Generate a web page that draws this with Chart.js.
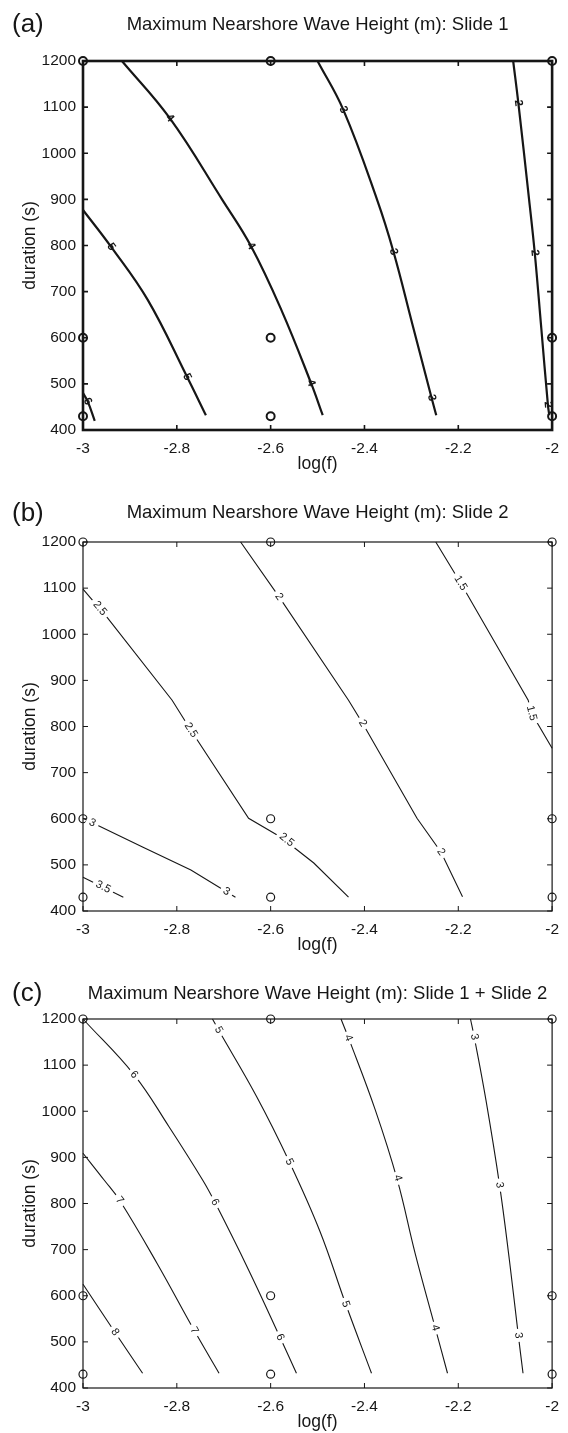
<!DOCTYPE html>
<html><head><meta charset="utf-8">
<script src="https://cdn.jsdelivr.net/npm/chart.js@4.4.0/dist/chart.umd.min.js"></script>
<style>
html,body{margin:0;padding:0;background:#fff;width:568px;height:1433px;overflow:hidden;}
.panel{position:absolute;left:0;width:568px;height:478px;}
canvas{display:block;}
</style></head><body>
<div class="panel" style="top:0px"><canvas id="ca" width="568" height="478"></canvas></div>
<div class="panel" style="top:481px"><canvas id="cb" width="568" height="478"></canvas></div>
<div class="panel" style="top:958px"><canvas id="cc" width="568" height="478"></canvas></div>
<script>
// ---------- axes ----------
const xTicks = [-3, -2.8, -2.6, -2.4, -2.2, -2];
const xTickLabels = ['-3', '-2.8', '-2.6', '-2.4', '-2.2', '-2'];
const yTicks = [400, 500, 600, 700, 800, 900, 1000, 1100, 1200];
const yTickLabels = ['400', '500', '600', '700', '800', '900', '1000', '1100', '1200'];
const xAxisTitle = 'log(f)';
const yAxisTitle = 'duration (s)';
const panelTags = ['(a)', '(b)', '(c)'];
const panelTitles = [
  'Maximum Nearshore Wave Height (m): Slide 1',
  'Maximum Nearshore Wave Height (m): Slide 2',
  'Maximum Nearshore Wave Height (m): Slide 1 + Slide 2'
];

// ---------- sample (simulation) points ----------
const sampleX = [-3, -2.6, -2, -3, -2.6, -2, -3, -2.6, -2];
const sampleY = [1200, 1200, 1200, 600, 600, 600, 430, 430, 430];

// ---------- panel (a): Slide 1 contours ----------
const a6x = [-3, -2.99, -2.975];
const a6y = [480, 462, 420];
const a5x = [-3, -2.94, -2.862, -2.778, -2.738];
const a5y = [877, 797, 682, 515, 432];
const a4x = [-2.917, -2.815, -2.703, -2.642, -2.577, -2.514, -2.489];
const a4y = [1200, 1076, 899, 799, 660, 502, 432];
const a3x = [-2.5, -2.445, -2.373, -2.338, -2.298, -2.257, -2.247];
const a3y = [1200, 1094, 899, 786, 630, 470, 432];
const a2x = [-2.083, -2.072, -2.049, -2.037, -2.023, -2.009, -2.006];
const a2y = [1200, 1109, 899, 784, 620, 455, 432];
const aLabelText = ['6', '5', '5', '4', '4', '4', '3', '3', '3', '2', '2', '2'];
const aLabelX = [-2.99, -2.94, -2.778, -2.815, -2.642, -2.514, -2.445, -2.338, -2.257, -2.072, -2.037, -2.009];
const aLabelY = [462, 797, 515, 1076, 799, 502, 1094, 786, 470, 1109, 784, 455];

// ---------- panel (b): Slide 2 contours ----------
const b35x = [-3, -2.914];
const b35y = [473, 430];
const b3x = [-3, -2.872, -2.77, -2.675];
const b3y = [601, 538, 489, 430];
const b25x = [-3, -2.949, -2.81, -2.77, -2.647, -2.578, -2.508, -2.434];
const b25y = [1098, 1037, 857, 792, 601, 560, 504, 430];
const b2x = [-2.664, -2.582, -2.434, -2.404, -2.288, -2.237, -2.191];
const b2y = [1200, 1081, 857, 807, 601, 528, 431];
const b15x = [-2.248, -2.195, -2.051, -2.044, -2];
const b15y = [1200, 1111, 857, 829, 753];
const bLabelText = ['3.5', '3', '3', '2.5', '2.5', '2.5', '2', '2', '2', '1.5', '1.5'];
const bLabelX = [-2.957, -2.98, -2.694, -2.964, -2.77, -2.566, -2.582, -2.404, -2.237, -2.195, -2.044];
const bLabelY = [452, 591, 442, 1056, 792, 554, 1081, 807, 528, 1111, 829];

// ---------- panel (c): Slide 1 + Slide 2 contours ----------
const c8x = [-3, -2.932, -2.873];
const c8y = [625, 521, 432];
const c7x = [-3, -2.955, -2.922, -2.842, -2.763, -2.71];
const c7y = [909, 851, 807, 670, 525, 432];
const c6x = [-3, -2.891, -2.817, -2.745, -2.719, -2.647, -2.58, -2.545];
const c6y = [1200, 1079, 967, 851, 803, 656, 510, 432];
const c5x = [-2.724, -2.711, -2.63, -2.56, -2.495, -2.44, -2.385];
const c5y = [1200, 1176, 1032, 890, 740, 582, 432];
const c4x = [-2.45, -2.434, -2.377, -2.33, -2.292, -2.249, -2.223];
const c4y = [1200, 1159, 1003, 851, 692, 530, 432];
const c3x = [-2.174, -2.166, -2.141, -2.112, -2.091, -2.072, -2.062];
const c3y = [1200, 1161, 1024, 840, 677, 514, 432];
const cLabelText = ['8', '7', '7', '6', '6', '6', '5', '5', '5', '4', '4', '4', '3', '3', '3'];
const cLabelX = [-2.932, -2.922, -2.763, -2.891, -2.719, -2.58, -2.711, -2.56, -2.44, -2.434, -2.329, -2.249, -2.166, -2.112, -2.072];
const cLabelY = [521, 807, 525, 1079, 803, 510, 1176, 890, 582, 1159, 855, 530, 1161, 840, 514];

// ---------- rendering ----------
const FONT = "'Liberation Sans', Arial, Helvetica, sans-serif";
const INK = '#161616';

function pts(xs, ys) { return xs.map((x, i) => ({ x: x, y: ys[i] })); }

const framePlugin = {
  id: 'frame',
  beforeDatasetsDraw(chart, args, o) {
    const { ctx, chartArea: ca, scales: { x, y } } = chart;
    ctx.save();
    ctx.strokeStyle = INK;
    ctx.lineWidth = o.width;
    ctx.strokeRect(ca.left, ca.top, ca.right - ca.left, ca.bottom - ca.top);
    ctx.lineWidth = o.tickWidth;
    ctx.beginPath();
    const L = 5;
    xTicks.forEach(v => {
      const p = x.getPixelForValue(v);
      ctx.moveTo(p, ca.bottom); ctx.lineTo(p, ca.bottom - L);
      ctx.moveTo(p, ca.top); ctx.lineTo(p, ca.top + L);
    });
    yTicks.forEach(v => {
      const p = y.getPixelForValue(v);
      ctx.moveTo(ca.left, p); ctx.lineTo(ca.left + L, p);
      ctx.moveTo(ca.right, p); ctx.lineTo(ca.right - L, p);
    });
    ctx.stroke();
    ctx.restore();
  }
};

const clabelPlugin = {
  id: 'clabels',
  afterDatasetsDraw(chart, args, o) {
    const { ctx, scales: { x, y } } = chart;
    ctx.save();
    ctx.font = o.weight + ' ' + o.size + 'px ' + FONT;
    ctx.textAlign = 'center';
    ctx.textBaseline = 'middle';
    o.text.forEach((t, i) => {
      const px = x.getPixelForValue(o.xs[i]);
      const py = y.getPixelForValue(o.ys[i]);
      const ds = chart.data.datasets.find(d => d.level === t);
      let best = Infinity, ang = Math.PI / 2;
      if (ds) {
        const pp = ds.data.map(p => [x.getPixelForValue(p.x), y.getPixelForValue(p.y)]);
        for (let k = 0; k < pp.length - 1; k++) {
          const [x1, y1] = pp[k], [x2, y2] = pp[k + 1];
          const dx = x2 - x1, dy = y2 - y1, LL = dx * dx + dy * dy;
          let tt = ((px - x1) * dx + (py - y1) * dy) / LL;
          tt = Math.max(0, Math.min(1, tt));
          const d = Math.hypot(x1 + tt * dx - px, y1 + tt * dy - py);
          if (d < best) { best = d; ang = Math.atan2(dy, dx); }
        }
      }
      if (ang > Math.PI / 2) ang -= Math.PI;
      if (ang < -Math.PI / 2) ang += Math.PI;
      ctx.save();
      ctx.translate(px, py);
      ctx.rotate(ang);
      if (o.bg) {
        const w = ctx.measureText(t).width + 7;
        ctx.fillStyle = '#fff';
        ctx.fillRect(-w / 2, -o.size * 0.5, w, o.size);
      }
      ctx.fillStyle = INK;
      ctx.fillText(t, 0, 0);
      ctx.restore();
    });
    ctx.restore();
  }
};

const tagPlugin = {
  id: 'tag',
  afterDraw(chart, args, o) {
    const ctx = chart.ctx;
    ctx.save();
    ctx.font = '26px ' + FONT;
    ctx.fillStyle = INK;
    ctx.textAlign = 'left';
    ctx.textBaseline = 'middle';
    ctx.fillText(o.text, 12, o.y);
    ctx.restore();
  }
};

function makeChart(id, idx, contours, labels, style) {
  const titleSize = 18.5, titleLH = titleSize * 1.2;
  const padTop = style.titleY - titleLH / 2;
  const padBottom = 61 - padTop - titleLH;
  const datasets = contours.map(c => ({
    level: c.level,
    data: pts(c.xs, c.ys),
    borderColor: INK,
    borderWidth: style.lineWidth,
    pointRadius: 0,
    pointHoverRadius: 0,
    tension: style.tension,
    fill: false,
    clip: 6
  }));
  datasets.push({
    level: 'samples',
    data: pts(sampleX, sampleY),
    showLine: false,
    pointStyle: 'circle',
    pointRadius: 4,
    pointHoverRadius: 4,
    pointBorderWidth: style.circleWidth,
    borderColor: INK,
    backgroundColor: 'rgba(255,255,255,0)',
    clip: false
  });
  return new Chart(document.getElementById(id), {
    type: 'line',
    data: { datasets: datasets },
    options: {
      responsive: false,
      animation: false,
      devicePixelRatio: 1,
      events: [],
      layout: { padding: { left: 0, right: 15, top: 0, bottom: 0 } },
      plugins: {
        legend: { display: false },
        tooltip: { enabled: false },
        title: {
          display: true,
          fullSize: false,
          text: panelTitles[idx],
          color: INK,
          font: { family: FONT, size: titleSize, weight: 'normal', lineHeight: 1.2 },
          padding: { top: padTop, bottom: padBottom }
        },
        frame: { width: style.frameWidth, tickWidth: style.tickWidth },
        clabels: labels,
        tag: { text: panelTags[idx], y: style.tagY }
      },
      scales: {
        x: {
          type: 'linear', min: -3, max: -2,
          afterBuildTicks: s => { s.ticks = xTicks.map(v => ({ value: v })); },
          afterFit: s => { s.height = 48; },
          grid: { display: false, drawTicks: false },
          border: { display: false },
          ticks: {
            padding: 9, color: INK, maxRotation: 0, autoSkip: false,
            font: { family: FONT, size: 15.5 },
            callback: (v, i) => xTickLabels[i]
          },
          title: {
            display: true, text: xAxisTitle, color: INK,
            font: { family: FONT, size: 17.5, lineHeight: 1.2 },
            padding: { top: 0, bottom: 3 }
          }
        },
        y: {
          type: 'linear', min: 400, max: 1200,
          afterBuildTicks: s => { s.ticks = yTicks.map(v => ({ value: v })); },
          afterFit: s => { s.width = 83; },
          grid: { display: false, drawTicks: false },
          border: { display: false },
          ticks: {
            padding: 7, color: INK, autoSkip: false,
            font: { family: FONT, size: 15.5 },
            callback: (v, i) => yTickLabels[i]
          },
          title: {
            display: true, text: yAxisTitle, color: INK,
            font: { family: FONT, size: 17.5, lineHeight: 1.2 },
            padding: { top: 20, bottom: 0 }
          }
        }
      }
    },
    plugins: [framePlugin, clabelPlugin, tagPlugin]
  });
}

makeChart('ca', 0,
  [
    { level: '6', xs: a6x, ys: a6y },
    { level: '5', xs: a5x, ys: a5y },
    { level: '4', xs: a4x, ys: a4y },
    { level: '3', xs: a3x, ys: a3y },
    { level: '2', xs: a2x, ys: a2y }
  ],
  { text: aLabelText, xs: aLabelX, ys: aLabelY, size: 11.5, weight: 'bold', bg: false },
  { titleY: 25, tagY: 25, lineWidth: 2.2, frameWidth: 2.6, tickWidth: 1.6, circleWidth: 2, tension: 0.4 }
);

makeChart('cb', 1,
  [
    { level: '3.5', xs: b35x, ys: b35y },
    { level: '3', xs: b3x, ys: b3y },
    { level: '2.5', xs: b25x, ys: b25y },
    { level: '2', xs: b2x, ys: b2y },
    { level: '1.5', xs: b15x, ys: b15y }
  ],
  { text: bLabelText, xs: bLabelX, ys: bLabelY, size: 11, weight: 'normal', bg: true },
  { titleY: 32, tagY: 33, lineWidth: 1.1, frameWidth: 1.2, tickWidth: 1, circleWidth: 1.2, tension: 0 }
);

makeChart('cc', 2,
  [
    { level: '8', xs: c8x, ys: c8y },
    { level: '7', xs: c7x, ys: c7y },
    { level: '6', xs: c6x, ys: c6y },
    { level: '5', xs: c5x, ys: c5y },
    { level: '4', xs: c4x, ys: c4y },
    { level: '3', xs: c3x, ys: c3y }
  ],
  { text: cLabelText, xs: cLabelX, ys: cLabelY, size: 11, weight: 'normal', bg: true },
  { titleY: 36, tagY: 36, lineWidth: 1.1, frameWidth: 1.2, tickWidth: 1, circleWidth: 1.2, tension: 0.4 }
);
</script>
</body></html>
